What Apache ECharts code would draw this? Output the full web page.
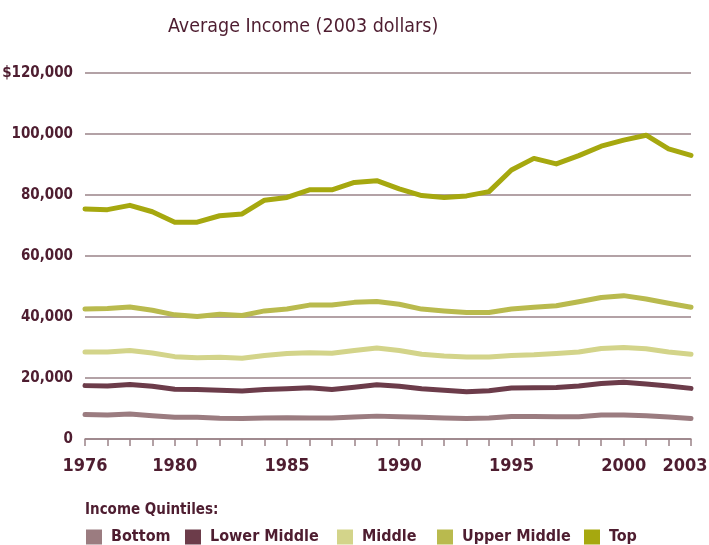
<!DOCTYPE html>
<html>
<head>
<meta charset="utf-8">
<script src="https://cdn.jsdelivr.net/npm/echarts@6/dist/echarts.min.js"></script>
<style>
html,body{margin:0;padding:0;background:#fff;}
#chart{width:709px;height:545px;}
</style>
</head>
<body>
<div id="chart"></div>
<script>
var years = [];
for (var y = 1976; y <= 2003; y++) years.push(String(y));
var labelYears = ['1976','1980','1985','1990','1995','2000','2003'];
var yTicks = [0, 20000, 40000, 60000, 80000, 100000, 120000];

var bottom = [8000,7900,8200,7600,7100,7100,6800,6700,6900,7000,6900,6900,7200,7500,7300,7100,6900,6700,6900,7400,7350,7300,7300,7900,7900,7600,7200,6700];
var lowerMiddle = [17500,17400,17900,17300,16300,16200,16000,15700,16200,16500,16800,16200,17000,17800,17300,16500,16000,15500,15800,16700,16800,16900,17400,18200,18600,18000,17400,16600];
var middle = [28500,28500,29000,28200,27000,26600,26800,26500,27400,28000,28300,28100,29000,29800,29000,27800,27200,26900,26900,27400,27600,28000,28500,29700,30000,29600,28500,27800];
var upperMiddle = [42600,42800,43300,42200,40700,40200,40900,40500,42000,42600,43900,43900,44800,45100,44200,42600,42000,41500,41500,42600,43200,43700,45000,46400,47000,45900,44500,43200];
var top5 = [75400,75200,76600,74500,71100,71100,73200,73800,78300,79200,81700,81700,84100,84700,82000,79800,79200,79700,81100,88200,92000,90200,92900,96000,98000,99600,95100,93000];

var seriesNames = ['Bottom','Lower Middle','Middle','Upper Middle','Top'];
var seriesData = [bottom, lowerMiddle, middle, upperMiddle, top5];
var colors = ['#9b7c80','#6c3c4a','#d3d48a','#b9ba4e','#a6a80f'];
var textColor = '#4e1d30';
var condensed = "'Liberation Sans Narrow','DejaVu Sans Condensed',sans-serif";
var legendLefts = [86, 185, 337, 437, 584];

var chart = echarts.init(document.getElementById('chart'), null, {renderer:'canvas'});
var option = {
  animation: false,
  backgroundColor: '#ffffff',
  title: {
    text: 'Average Income (2003 dollars)',
    left: 163, top: 12,
    textStyle: {fontFamily: condensed, fontSize: 19.5, fontWeight: 'normal', color: '#4e1d30'}
  },
  graphic: [{
    type: 'text', left: 85, top: 503,
    style: {text: 'Income Quintiles:', fill: textColor, font: "bold 15px " + condensed}
  }],
  legend: seriesNames.map(function(n, i){
    return {
      data: [n], left: legendLefts[i], top: 529, icon: 'rect',
      itemWidth: 16, itemHeight: 15, itemGap: 0, padding: 0,
      textStyle: {fontFamily: condensed, fontSize: 16, fontWeight: 'bold', color: textColor, padding: [0,0,0,4]}
    };
  }),
  grid: {left: 85, right: 18, top: 73, bottom: 106, containLabel: false, outerBoundsMode: 'none'},
  xAxis: {
    type: 'category', data: years, boundaryGap: false,
    axisLine: {lineStyle: {color: '#9a8388', width: 1.5}},
    axisTick: {show: true, interval: 0, length: 7, lineStyle: {color: '#9a8388', width: 1.5}},
    axisLabel: {
      interval: function(idx, val){ return labelYears.indexOf(val) >= 0; },
      formatter: function(val){ return val === '2003' ? '{last|' + val + '}' : val; },
      rich: {last: {fontFamily: condensed, fontSize: 18, fontWeight: 'bold', color: textColor, padding: [0, 12, 0, 0]}},
      fontFamily: condensed, fontSize: 18, fontWeight: 'bold', color: textColor, margin: 18,
      hideOverlap: false
    },
    splitLine: {show: false}
  },
  yAxis: {
    type: 'value', min: yTicks[0], max: yTicks[yTicks.length-1], interval: 20000,
    axisLine: {show: false}, axisTick: {show: false},
    splitLine: {lineStyle: {color: '#9a8388', width: 1.5}},
    axisLabel: {
      fontFamily: condensed, fontSize: 15, fontWeight: 'bold', color: textColor, margin: 12,
      formatter: function(v){
        var s = v.toLocaleString('en-US');
        return v === 120000 ? '$' + s : s;
      }
    }
  },
  series: seriesNames.map(function(n, i){
    return {
      name: n, type: 'line', data: seriesData[i], symbol: 'none',
      color: colors[i],
      lineStyle: {width: 5, color: colors[i], cap: 'round', join: 'round'}
    };
  })
};
chart.setOption(option);
</script>
</body>
</html>
